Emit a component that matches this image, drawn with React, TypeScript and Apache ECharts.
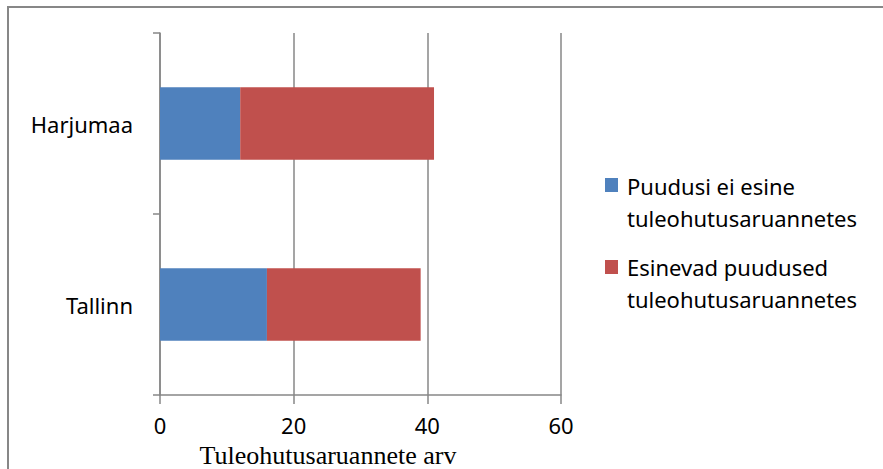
import React, { useEffect, useRef } from "react";
import * as echarts from "echarts";

const categories = ["Tallinn", "Harjumaa"];
const seriesNames = ["Puudusi ei esine\ntuleohutusaruannetes", "Esinevad puudused\ntuleohutusaruannetes"];
const blueValues = [16, 12];
const redValues = [23, 29];
const xTicks = [0, 20, 40, 60];
const axisTitle = "Tuleohutusaruannete arv";

const BLUE = "#4F81BD";
const RED = "#C0504D";
const GRAY = "#878787";
const FONT = "Noto Sans";

export default function App() {
  const ref = useRef<HTMLDivElement>(null);
  useEffect(() => {
    document.body.style.margin = "0";
    const chart = echarts.init(ref.current!, null, { renderer: "svg" });
    const colors = [BLUE, RED];
    const squareTops = [178, 260];
    const textTops = [170, 251];
    const legendGraphic: any[] = [];
    seriesNames.forEach((name, i) => {
      legendGraphic.push({
        type: "rect",
        shape: { x: 605, y: squareTops[i], width: 13, height: 14 },
        style: { fill: colors[i] },
      });
      legendGraphic.push({
        type: "text",
        x: 627,
        y: textTops[i],
        style: {
          text: name,
          font: `22px "${FONT}"`,
          fill: "#000",
          lineHeight: 32,
          verticalAlign: "top",
          align: "left",
        },
      });
    });
    chart.setOption({
      animation: false,
      grid: { left: 160, right: 322, top: 33, bottom: 74, containLabel: false },
      xAxis: {
        type: "value",
        min: xTicks[0],
        max: xTicks[xTicks.length - 1],
        interval: 20,
        axisLine: { show: true, lineStyle: { color: GRAY, width: 1.5 } },
        axisTick: { show: true, length: 9, lineStyle: { color: GRAY, width: 1.5 } },
        splitLine: { show: true, lineStyle: { color: GRAY, width: 1.5 } },
        axisLabel: { color: "#000", fontFamily: FONT, fontSize: 22, lineHeight: 18, margin: 21 },
      },
      yAxis: {
        type: "category",
        data: categories,
        axisLine: { show: true, lineStyle: { color: GRAY, width: 1.5 } },
        axisTick: { show: true, length: 7, lineStyle: { color: GRAY, width: 1.5 } },
        axisLabel: { color: "#000", fontFamily: FONT, fontSize: 22, margin: 27 },
      },
      series: [
        {
          name: seriesNames[0],
          type: "bar",
          stack: "total",
          data: blueValues,
          barCategoryGap: "60%",
          itemStyle: { color: BLUE },
        },
        {
          name: seriesNames[1],
          type: "bar",
          stack: "total",
          data: redValues,
          barCategoryGap: "60%",
          itemStyle: { color: RED },
        },
      ],
      graphic: [
        {
          type: "rect",
          shape: { x: 8, y: 7, width: 1000, height: 600 },
          style: { fill: "none", stroke: GRAY, lineWidth: 2 },
          silent: true,
        },
        {
          type: "text",
          x: 328,
          y: 455,
          style: {
            text: axisTitle,
            font: '26px "Liberation Serif"',
            lineHeight: 20,
            fill: "#000",
            align: "center",
            verticalAlign: "middle",
          },
        },
        ...legendGraphic,
      ],
    });
    return () => chart.dispose();
  }, []);
  return (
    <div
      ref={ref}
      style={{ position: "absolute", left: 0, top: 0, width: 883, height: 469, background: "#fff" }}
    />
  );
}
